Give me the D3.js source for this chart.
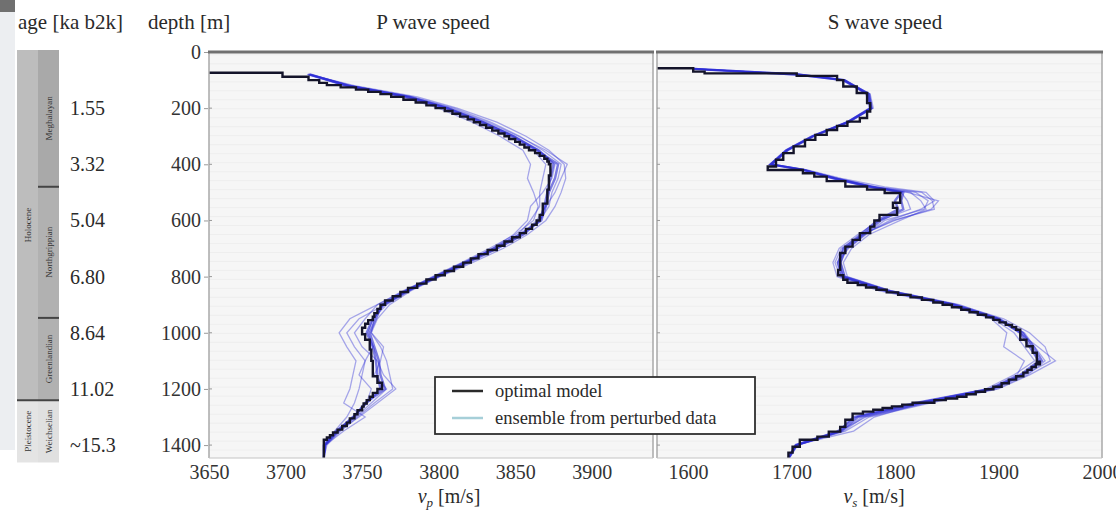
<!DOCTYPE html>
<html>
<head>
<meta charset="utf-8">
<script src="https://cdn.jsdelivr.net/npm/d3@7"></script>
<style>
  body { margin: 0; background: #fff; }
  text { font-family: "Liberation Serif", "Times New Roman", "DejaVu Serif", serif; fill: #2a2a2a; }
</style>
</head>
<body>
<svg id="chart" width="1116" height="510"></svg>
<script>
// depth ticks + ages read at the same depths
const depthTicks = [0, 200, 400, 600, 800, 1000, 1200, 1400];
const ageDepths = [200, 400, 600, 800, 1000, 1200, 1400];
const ageLabels = ["1.55", "3.32", "5.04", "6.80", "8.64", "11.02", "~15.3"];

// stratigraphy (depth in m)
const stageNames = ["Meghalayan", "Northgrippian", "Greenlandian", "Weichselian"];
const stageTops = [0, 480, 947, 1240];
const stageBottoms = [480, 947, 1240, 1462];
const epochNames = ["Holocene", "Pleistocene"];
const epochTops = [0, 1240];
const epochBottoms = [1240, 1462];

const pTicks = [3650, 3700, 3750, 3800, 3850, 3900];
const sTicks = [1600, 1700, 1800, 1900, 2000];

// optimal models: [layer top depth, velocity]
const pOptimal = [[0,3600],[74,3698],[88,3715],[100,3722],[110,3727],[118,3736],[126,3746],[134,3754],[142,3762],[150,3769],[160,3777],[170,3785],[180,3792],[190,3798],[200,3804],[210,3809],[220,3814],[230,3819],[240,3823],[250,3827],[260,3831],[270,3835],[280,3839],[290,3843],[300,3846],[310,3850],[320,3853],[330,3856],[340,3859],[350,3863],[360,3866],[370,3869],[380,3871],[390,3872],[400,3873],[440,3872],[490,3871],[540,3868],[580,3866],[600,3864],[615,3861],[630,3857],[645,3853],[660,3848],[675,3843],[690,3838],[705,3832],[720,3826],[735,3821],[750,3816],[765,3810],[780,3804],[795,3798],[810,3792],[825,3786],[840,3780],[855,3775],[870,3770],[885,3765],[900,3762],[915,3760],[930,3758],[943,3757],[955,3754],[968,3752],[982,3750],[1005,3752],[1025,3755],[1060,3756],[1100,3757],[1132,3757],[1155,3760],[1178,3763],[1200,3760],[1214,3757],[1228,3755],[1240,3753],[1252,3751],[1263,3750],[1276,3747],[1290,3745],[1305,3742],[1320,3740],[1332,3737],[1345,3734],[1355,3731],[1365,3729],[1373,3727],[1381,3725],[1446,3725]];

const sOptimal = [[0,1500],[58,1605],[70,1616],[76,1705],[85,1744],[100,1750],[123,1763],[146,1773],[182,1776],[212,1773],[235,1766],[248,1754],[263,1744],[278,1734],[295,1723],[313,1713],[336,1702],[360,1692],[384,1685],[408,1677],[420,1711],[432,1722],[444,1734],[460,1752],[479,1773],[490,1790],[502,1805],[537,1798],[555,1802],[580,1785],[600,1780],[622,1776],[645,1766],[669,1759],[693,1752],[716,1747],[776,1745],[795,1750],[811,1754],[822,1764],[830,1772],[839,1782],[847,1792],[856,1803],[865,1815],[874,1826],[883,1837],[892,1846],[900,1855],[909,1864],[918,1872],[927,1880],[936,1888],[945,1895],[954,1901],[963,1907],[972,1913],[980,1917],[989,1921],[1025,1927],[1048,1933],[1071,1937],[1103,1940],[1112,1936],[1122,1932],[1132,1928],[1142,1924],[1155,1917],[1167,1910],[1180,1903],[1192,1895],[1201,1887],[1210,1878],[1219,1869],[1228,1860],[1234,1849],[1240,1838],[1249,1817],[1256,1807],[1262,1797],[1268,1788],[1274,1779],[1281,1769],[1288,1759],[1310,1752],[1335,1747],[1352,1736],[1370,1725],[1381,1708],[1406,1701],[1427,1697],[1446,1697]];

// ensemble from perturbed data, sampled at these depths
const pEnsDepths = [80,120,160,200,250,300,350,400,450,500,550,600,650,700,750,800,850,900,950,1000,1050,1100,1150,1200,1250,1300,1350,1400,1446];
const pEns1 = [3716,3742,3783,3810,3834,3853,3868,3880,3878,3874,3872,3866,3856,3839,3820,3800,3780,3765,3748,3740,3745,3752,3750,3748,3745,3740,3732,3726,3725];
const pEns2 = [3715,3745,3786,3812,3838,3857,3872,3882,3883,3880,3876,3870,3858,3842,3822,3801,3782,3768,3760,3756,3762,3766,3768,3770,3758,3747,3736,3727,3725];
const pEns3 = [3714,3738,3776,3800,3822,3840,3855,3860,3858,3862,3865,3862,3850,3833,3815,3796,3778,3760,3742,3735,3740,3746,3744,3742,3738,3752,3738,3726,3725];
const pEns4 = [3715,3741,3780,3806,3830,3850,3866,3876,3874,3868,3860,3858,3849,3835,3818,3799,3779,3763,3758,3756,3764,3762,3758,3766,3756,3746,3734,3725,3725];
const pEns5 = [3716,3743,3782,3808,3832,3852,3870,3884,3880,3876,3870,3864,3854,3837,3816,3797,3777,3760,3752,3745,3750,3760,3764,3772,3760,3748,3735,3726,3725];
const pEns6 = [3715,3739,3778,3803,3826,3846,3862,3870,3868,3866,3866,3860,3852,3835,3819,3800,3781,3766,3757,3754,3757,3752,3748,3756,3753,3744,3735,3726,3725];
const pEns7 = [3715,3741,3781,3806,3829,3848,3865,3875,3873,3871,3869,3866,3855,3838,3818,3799,3780,3764,3757,3753,3757,3759,3760,3762,3753,3744,3734,3726,3725];
const pEns8 = [3716,3740,3779,3805,3828,3849,3864,3878,3876,3872,3870,3867,3853,3836,3817,3798,3779,3763,3759,3755,3758,3761,3762,3765,3752,3745,3733,3725,3725];

const sEnsDepths = [60,80,100,150,200,250,300,350,400,420,450,480,500,530,560,600,650,700,750,800,850,900,950,1000,1050,1100,1150,1200,1250,1300,1350,1400,1446];
const sEns1 = [1606,1708,1752,1776,1779,1755,1722,1697,1682,1715,1748,1790,1830,1838,1825,1795,1770,1752,1748,1752,1795,1860,1905,1930,1945,1950,1925,1895,1830,1770,1750,1706,1698];
const sEns2 = [1605,1704,1749,1772,1775,1753,1719,1694,1679,1712,1745,1782,1820,1832,1828,1790,1772,1755,1744,1748,1788,1852,1895,1915,1925,1935,1915,1888,1822,1762,1744,1704,1697];
const sEns3 = [1605,1706,1751,1774,1777,1754,1721,1696,1681,1713,1738,1775,1812,1842,1835,1800,1768,1748,1742,1747,1790,1858,1900,1920,1938,1955,1930,1900,1835,1775,1752,1705,1697];
const sEns4 = [1607,1705,1750,1773,1776,1754,1720,1695,1680,1710,1742,1778,1806,1812,1815,1785,1764,1746,1740,1744,1784,1850,1893,1908,1905,1925,1918,1892,1826,1780,1760,1704,1697];
const sEns5 = [1605,1705,1750,1775,1778,1755,1721,1696,1681,1711,1741,1776,1815,1825,1830,1805,1775,1758,1750,1754,1796,1862,1902,1925,1935,1945,1928,1898,1828,1768,1748,1705,1698];
const sEns6 = [1606,1707,1752,1773,1776,1753,1720,1695,1680,1712,1744,1780,1826,1836,1838,1798,1769,1750,1746,1750,1792,1856,1898,1924,1932,1940,1922,1894,1832,1772,1746,1704,1697];
const sEns7 = [1605,1705,1751,1774,1777,1754,1720,1695,1680,1711,1741,1775,1806,1800,1803,1783,1767,1750,1745,1749,1791,1855,1899,1921,1930,1939,1921,1892,1820,1760,1746,1704,1697];
const sEns8 = [1606,1706,1750,1775,1777,1755,1721,1696,1680,1712,1742,1777,1808,1806,1808,1786,1770,1753,1747,1751,1793,1857,1900,1923,1934,1942,1923,1894,1823,1764,1748,1705,1697];

const svg = d3.select("#chart");

const y = d3.scaleLinear().domain([0, 1446]).range([52, 458]);
const xP = d3.scaleLinear().domain([3650, 3940]).range([209, 653]);
const xS = d3.scaleLinear().domain([1570, 2000]).range([657, 1102]);

// screenshot leftovers at the far left edge
svg.append("rect").attr("x", 0).attr("y", 12).attr("width", 15).attr("height", 438).attr("fill", "#eceef1");
svg.append("rect").attr("x", 0).attr("y", 0).attr("width", 15).attr("height", 12).attr("fill", "#707070");

drawStrat();
drawPanel("p", xP, pOptimal, pEnsDepths, [pEns1, pEns2, pEns3, pEns4, pEns5, pEns6, pEns7, pEns8], pTicks);
drawPanel("s", xS, sOptimal, sEnsDepths, [sEns1, sEns2, sEns3, sEns4, sEns5, sEns6, sEns7, sEns8], sTicks);
drawLabels();
drawLegend();

function drawStrat(){
    const g = svg.append("g").attr("class", "strat");
    const x0 = 17, xm = 38, x1 = 59;
    const top = y(0) - 2;
    // epochs (left) then stages (right)
    epochNames.forEach((name, i) => {
        const t = i === 0 ? top : y(epochTops[i]);
        const b = y(epochBottoms[i]);
        g.append("rect").attr("x", x0).attr("y", t).attr("width", xm - x0).attr("height", b - t)
            .attr("fill", i === 0 ? "#bdbdbd" : "#e4e4e4");
        g.append("text")
            .attr("transform", "translate(" + ((x0 + xm) / 2 + 3) + "," + ((t + b) / 2) + ") rotate(-90)")
            .attr("text-anchor", "middle")
            .style("font-size", "9px")
            .style("fill", "#333")
            .text(name);
    });
    stageNames.forEach((name, i) => {
        const t = i === 0 ? top : y(stageTops[i]);
        const b = y(stageBottoms[i]);
        g.append("rect").attr("x", xm).attr("y", t).attr("width", x1 - xm).attr("height", b - t)
            .attr("fill", i === 3 ? "#e0e0e0" : (i === 0 ? "#a9a9a9" : "#b1b1b1"));
        g.append("text")
            .attr("transform", "translate(" + ((xm + x1) / 2 + 3) + "," + ((t + b) / 2) + ") rotate(-90)")
            .attr("text-anchor", "middle")
            .style("font-size", "9px")
            .style("fill", "#333")
            .text(name);
        if(i > 0){
            const full = epochTops.includes(stageTops[i]);
            g.append("line")
                .attr("x1", full ? x0 : xm).attr("x2", x1)
                .attr("y1", y(stageTops[i])).attr("y2", y(stageTops[i]))
                .attr("stroke", "#444").attr("stroke-width", 2);
        }
    });

    // age labels next to the column
    svg.append("g").selectAll("text").data(ageDepths).enter()
        .append("text")
            .attr("x", 70)
            .attr("y", d => y(d))
            .attr("dy", "0.35em")
            .style("font-size", "20px")
            .text((d, i) => ageLabels[i]);
}

function drawPanel(id, x, optimal, ensDepths, members, ticks){
    const [xl, xr] = x.range();
    const [yt, yb] = y.range();
    const g = svg.append("g").attr("class", "panel-" + id);

    svg.append("clipPath").attr("id", "clip-" + id)
        .append("rect").attr("x", xl).attr("y", yt).attr("width", xr - xl).attr("height", yb - yt);

    g.append("rect")
        .attr("x", xl).attr("y", yt).attr("width", xr - xl).attr("height", yb - yt)
        .attr("fill", "#f6f6f6");

    // faint horizontal striping of the background
    g.append("g").selectAll("line").data(d3.range(10, 1446, 32)).enter()
        .append("line")
            .attr("x1", xl).attr("x2", xr)
            .attr("y1", d => y(d)).attr("y2", d => y(d))
            .attr("stroke", "#ebebeb").attr("stroke-width", 0.7);

    const inner = g.append("g").attr("clip-path", "url(#clip-" + id + ")");

    const ensLine = d3.line().x(d => x(d.v)).y(d => y(d.d));
    inner.selectAll("path.ens").data(members).enter()
        .append("path")
            .attr("class", "ens")
            .attr("d", m => ensLine(ensDepths.map((d, i) => ({ d: d, v: m[i] }))))
            .attr("fill", "none")
            .attr("stroke", "#2c2cd6")
            .attr("stroke-opacity", (m, i) => i < 6 ? 0.4 : 0.6)
            .attr("stroke-width", (m, i) => i < 6 ? 1.3 : 2.4);

    const optLine = d3.line().x(d => x(d[1])).y(d => y(d[0])).curve(d3.curveStepBefore);
    inner.append("path")
        .datum(optimal)
        .attr("d", optLine)
        .attr("fill", "none")
        .attr("stroke", "#14142a")
        .attr("stroke-width", 2.4);

    // frame
    g.append("line").attr("x1", xl).attr("x2", xl).attr("y1", yt).attr("y2", yb).attr("stroke", "#a8a8a8").attr("stroke-width", 1.5);
    g.append("line").attr("x1", xr).attr("x2", xr).attr("y1", yt).attr("y2", yb).attr("stroke", "#a8a8a8").attr("stroke-width", 1.5);
    g.append("line").attr("x1", xl).attr("x2", xr).attr("y1", yb).attr("y2", yb).attr("stroke", "#c4c4c4").attr("stroke-width", 1);
    g.append("line").attr("x1", xl - 1).attr("x2", xr + 1).attr("y1", yt).attr("y2", yt).attr("stroke", "#707070").attr("stroke-width", 3);

    // small depth ticks on the inner side of each frame
    g.append("g").selectAll("line").data(depthTicks.slice(1)).enter()
        .append("line")
            .attr("x1", xl).attr("x2", xl + 3)
            .attr("y1", d => y(d)).attr("y2", d => y(d))
            .attr("stroke", "#999");

    const xAxis = d3.axisBottom(x).tickValues(ticks).tickFormat(d3.format("d")).tickSize(0).tickPadding(7);
    const axG = svg.append("g").attr("transform", "translate(0," + yb + ")").call(xAxis);
    axG.select(".domain").remove();
    axG.selectAll("text").style("font-size", "20px").style("font-family", null).style("fill", "#333");
}

function drawLabels(){
    const yAxis = d3.axisLeft(y).tickValues(depthTicks).tickFormat(d3.format("d")).tickSize(4).tickPadding(3);
    const ayG = svg.append("g").attr("transform", "translate(208,0)").call(yAxis);
    ayG.select(".domain").remove();
    ayG.selectAll("line").attr("stroke", "#999");
    ayG.selectAll("text").style("font-size", "20px").style("font-family", null).style("fill", "#333");

    const headers = [
        { t: "age [ka b2k]", x: 18, a: "start" },
        { t: "depth [m]", x: 148, a: "start" },
        { t: "P wave speed", x: 433, a: "middle" },
        { t: "S wave speed", x: 885, a: "middle" }
    ];
    svg.append("g").selectAll("text").data(headers).enter()
        .append("text")
            .attr("x", d => d.x)
            .attr("y", 29)
            .attr("text-anchor", d => d.a)
            .style("font-size", "21px")
            .text(d => d.t);

    [["p", 449], ["s", 874]].forEach(([sub, cx]) => {
        const t = svg.append("text").attr("x", cx).attr("y", 503).attr("text-anchor", "middle").style("font-size", "20px");
        t.append("tspan").style("font-style", "italic").text("v");
        t.append("tspan").style("font-style", "italic").style("font-size", "13px").attr("dy", 4).text(sub);
        t.append("tspan").attr("dy", -4).text(" [m/s]");
    });
}

function drawLegend(){
    const g = svg.append("g").attr("class", "legend");
    g.append("rect")
        .attr("x", 435).attr("y", 377).attr("width", 320).attr("height", 57)
        .attr("fill", "#fff").attr("stroke", "#2f2f2f").attr("stroke-width", 1.8);
    const items = [
        { label: "optimal model", color: "#2a2a2a" },
        { label: "ensemble from perturbed data", color: "#a6cfd8" }
    ];
    const row = g.selectAll("g.item").data(items).enter()
        .append("g")
            .attr("class", "item")
            .attr("transform", (d, i) => "translate(0," + (391 + i * 27) + ")");
    row.append("line")
        .attr("x1", 452).attr("x2", 483)
        .attr("stroke", d => d.color).attr("stroke-width", 2.5);
    row.append("text")
        .attr("x", 495).attr("dy", "0.32em")
        .style("font-size", "18.5px")
        .text(d => d.label);
}
</script>
</body>
</html>
